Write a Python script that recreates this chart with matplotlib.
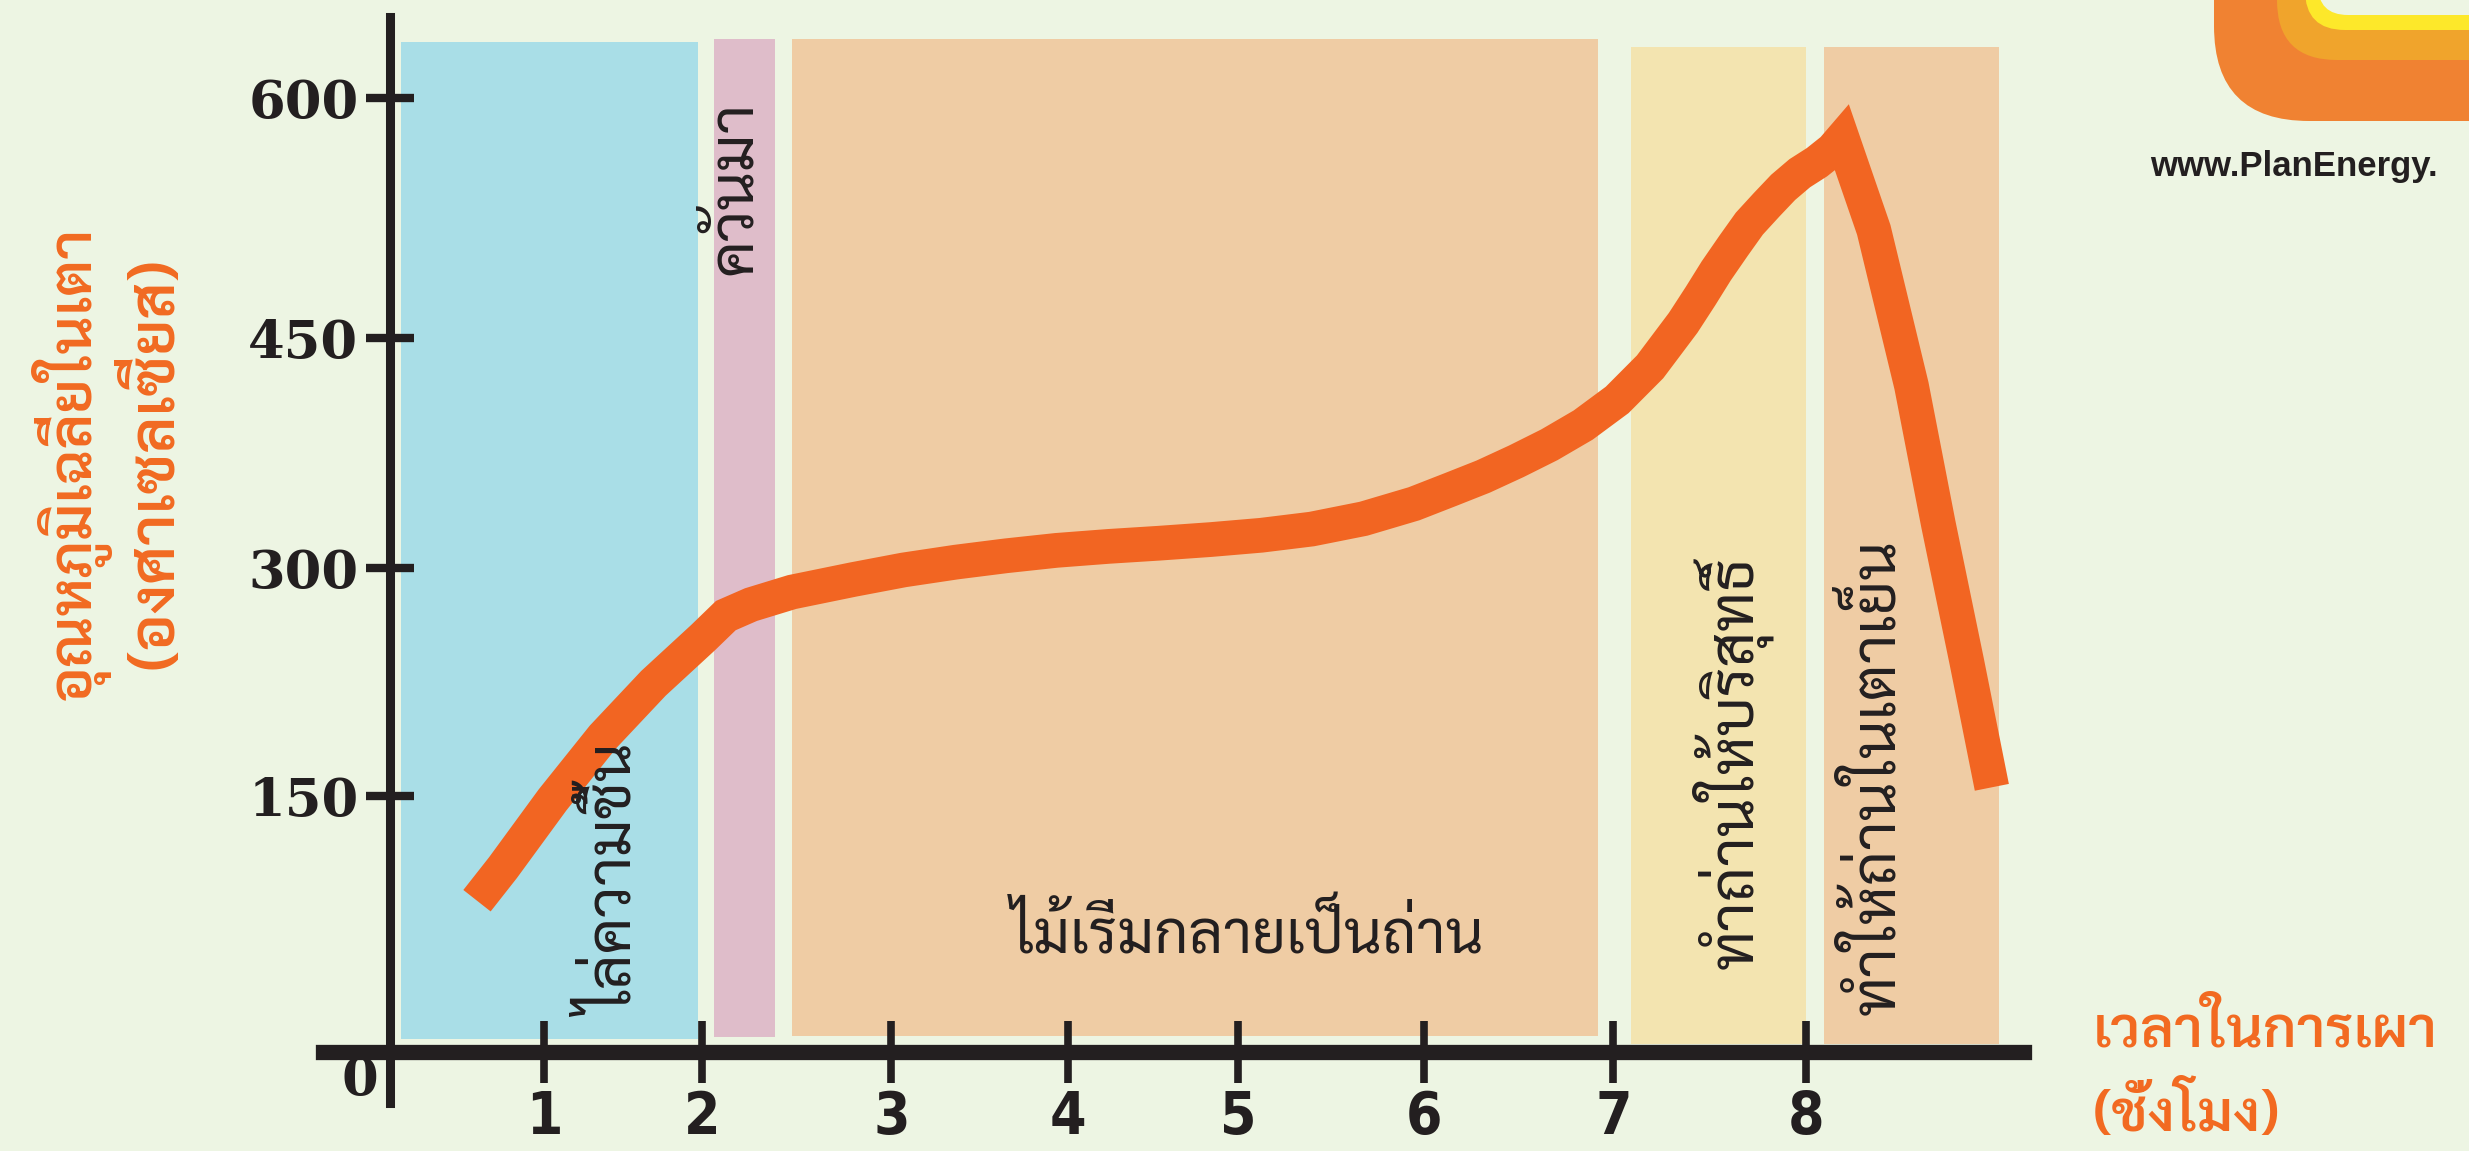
import matplotlib
matplotlib.use("Agg")
import matplotlib.pyplot as plt
from matplotlib import font_manager
from matplotlib.patches import FancyBboxPatch, Rectangle

# ---- data ----
hour_labels = ["1", "2", "3", "4", "5", "6", "7", "8"]
hour_pos = [0.87, 1.76, 2.83, 3.83, 4.79, 5.84, 6.91, 8.0]   # hand-drawn spacing
temp_labels = ["150", "300", "450", "600"]
temp_pos = [161, 304, 449, 600]

# average kiln temperature along the burn
time_h = [0.489, 0.636, 0.916, 1.201, 1.486, 1.766, 1.895, 2.037, 2.269, 2.616,
          2.900, 3.194, 3.479, 3.763, 4.057, 4.342, 4.635, 4.920, 5.205, 5.498,
          5.783, 5.988, 6.174, 6.361, 6.548, 6.739, 6.931, 7.117, 7.304, 7.402,
          7.491, 7.589, 7.678, 7.776, 7.869, 7.963, 8.060, 8.149, 8.203, 8.381,
          8.594, 8.746, 8.906, 9.048]
temp_c = [95.0, 115.8, 158.4, 198.0, 231.7, 260.4, 274.3, 281.2, 289.1, 297.0,
          303.0, 307.9, 311.9, 315.3, 317.8, 319.8, 322.1, 324.8, 328.7, 335.2,
          344.6, 353.5, 361.7, 371.3, 381.7, 394.1, 409.9, 430.7, 458.4, 475.2,
          491.1, 506.9, 520.8, 532.7, 543.6, 552.5, 559.4, 567.3, 574.3, 516.8,
          418.8, 331.7, 245.5, 166.3]

# stage bands
stage_names = ["ไล่ความชื้น", "ควันมา", "ไม้เริ่มกลายเป็นถ่าน",
               "ทำถ่านให้บริสุทธิ์", "ทำให้ถ่านในเตาเย็น"]
stage_start = [0.06, 1.83, 2.27, 7.01, 8.10]
stage_end = [1.74, 2.17, 6.82, 8.00, 9.09]
stage_bottom = [8, 9, 10, 5, 5]
stage_top = [635, 637, 637, 632, 632]

# ---- style ----
BG = "#edf5e3"
INK = "#231f20"
ORANGE = "#f26522"
LABEL_ORANGE = "#f26a21"
band_colors = ["#a9dee7", "#dfbdca", "#efcca4", "#f3e4b0", "#efcca4"]

avail = {f.name for f in font_manager.fontManager.ttflist}
thai_pref = ["Sarabun", "Noto Sans Thai Looped", "Noto Sans Thai", "Anuphan", "Athiti"]
THAI = [f for f in thai_pref if f in avail][:1] + ["DejaVu Sans"]

fig = plt.figure(figsize=(24.69, 11.51), dpi=100, facecolor=BG)
ax = fig.add_axes([0, 0, 1, 1], facecolor=BG)
ax.set_xlim(-2.206, 11.744)
ax.set_ylim(-62.4, 661.4)

# stage bands
for x0, x1, y0, y1, c in zip(stage_start, stage_end, stage_bottom, stage_top, band_colors):
    ax.add_patch(Rectangle((x0, y0), x1 - x0, y1 - y0, color=c, lw=0, zorder=1))

# temperature curve
ax.plot(time_h, temp_c, color=ORANGE, lw=25, solid_capstyle="butt",
        solid_joinstyle="miter", zorder=3)

# axes drawn as thick spines through the origin
for side in ["top", "right"]:
    ax.spines[side].set_visible(False)
ax.spines["left"].set_position(("data", 0))
ax.spines["bottom"].set_position(("data", 0))
ax.spines["left"].set_bounds(-32, 651)
ax.spines["bottom"].set_bounds(-0.38, 9.23)
ax.spines["left"].set_linewidth(6.5)
ax.spines["bottom"].set_linewidth(11)
for side in ["left", "bottom"]:
    ax.spines[side].set_color(INK)
    ax.spines[side].set_zorder(4)

ax.set_xticks(hour_pos, hour_labels)
ax.set_yticks(temp_pos, temp_labels)
ax.tick_params(axis="x", direction="inout", length=45, width=5.5, color=INK, pad=4)
ax.tick_params(axis="y", direction="inout", length=34, width=6, color=INK, pad=6)
for t in ax.get_xticklabels():
    t.set_fontfamily("DejaVu Sans")
    t.set_fontstretch("condensed")
    t.set_fontweight("heavy")
    t.set_fontsize(42)
    t.set_color(INK)
for t in ax.get_yticklabels():
    t.set_fontfamily("DejaVu Serif")
    t.set_fontweight("heavy")
    t.set_fontsize(38)
    t.set_color(INK)
ax.text(-0.17, -18, "0", ha="center", va="center", fontsize=38,
        fontfamily="DejaVu Serif", fontweight="heavy", color=INK)

# stage labels
ax.text(1.29, 107, stage_names[0], rotation=90, ha="center", va="center",
        fontsize=44, family=THAI, color=INK, zorder=5)
ax.text(1.95, 543, stage_names[1], rotation=90, ha="center", va="center",
        fontsize=44, family=THAI, color=INK, zorder=5)
ax.text(4.84, 72, stage_names[2], ha="center", va="center",
        fontsize=43, family=THAI, color=INK, zorder=5)
ax.text(7.58, 182, stage_names[3], rotation=90, ha="center", va="center",
        fontsize=44, family=THAI, color=INK, zorder=5)
ax.text(8.40, 173, stage_names[4], rotation=90, ha="center", va="center",
        fontsize=44, family=THAI, color=INK, zorder=5)

# axis titles
ax.text(-1.81, 370, "อุณหภูมิเฉลี่ยในเตา", rotation=90, ha="center", va="center",
        fontsize=43, family=THAI, color=LABEL_ORANGE, fontweight="semibold")
ax.text(-1.32, 370, "(องศาเซลเซียส)", rotation=90, ha="center", va="center",
        fontsize=45, family=THAI, color=LABEL_ORANGE, fontweight="semibold")
ax.text(9.62, 12, "เวลาในการเผา", ha="left", va="center",
        fontsize=41, family=THAI, color=LABEL_ORANGE, fontweight="semibold")
ax.text(9.62, -40, "(ชั่งโมง)", ha="left", va="center",
        fontsize=41, family=THAI, color=LABEL_ORANGE, fontweight="semibold")

# logo corner (figure inches)
inch = fig.dpi_scale_trans
ax.add_patch(FancyBboxPatch((22.14, 10.30), 4.0, 2.5, boxstyle="round,pad=0,rounding_size=0.95",
                            transform=inch, color="#f08232", lw=0, clip_on=False))
ax.add_patch(FancyBboxPatch((22.77, 10.91), 3.5, 2.0, boxstyle="round,pad=0,rounding_size=0.6",
                            transform=inch, color="#f0a42c", lw=0, clip_on=False))
ax.add_patch(FancyBboxPatch((23.05, 11.21), 3.3, 1.5, boxstyle="round,pad=0,rounding_size=0.4",
                            transform=inch, color="#fde82a", lw=0, clip_on=False))
ax.add_patch(FancyBboxPatch((23.18, 11.36), 3.2, 1.5, boxstyle="round,pad=0,rounding_size=0.3",
                            transform=inch, color=BG, lw=0, clip_on=False))
fig.text(0.871, 0.855, "www.PlanEnergy.", fontsize=25, fontweight="bold",
         family="Liberation Sans", color=INK, va="center", ha="left")

fig.savefig("out.png", facecolor=BG)
